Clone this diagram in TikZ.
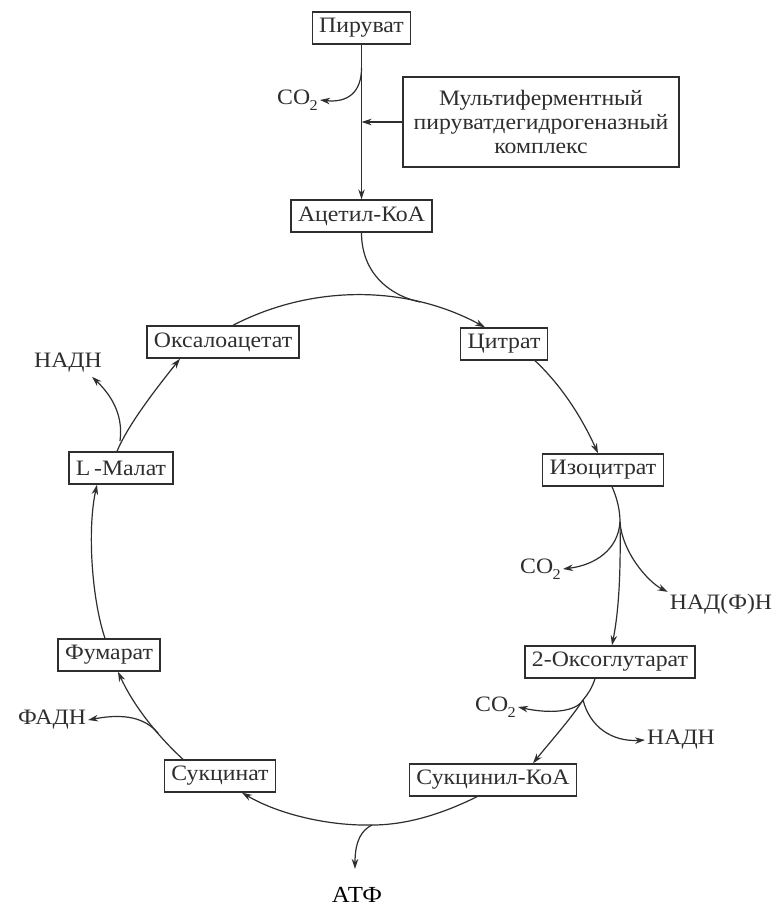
\documentclass[tikz,border=0pt]{standalone}
\usepackage{fontspec}
\setmainfont[FakeStretch=1.08]{Liberation Serif}
\usetikzlibrary{arrows.meta}
\definecolor{ink}{HTML}{2E2E2E}
\newcommand{\cotwo}{CO\kern-0.5pt\raisebox{-0.55ex}{\fontsize{15}{15}\selectfont 2}}
\begin{document}
\begin{tikzpicture}[x=1pt,y=-1pt,
  box/.style={draw=ink, line width=1.4pt, inner xsep=7pt, inner ysep=0pt, minimum height=32pt, font=\fontsize{22}{26}\selectfont, text=ink},
  lbl/.style={inner sep=2pt, font=\fontsize{22}{26}\selectfont, text=ink},
  conn/.style={draw=ink, line width=1.2pt},
  arr/.style={conn, -{Stealth[length=10pt,width=6.5pt]}}]
\fill[white] (0,0) rectangle (781,908);
\useasboundingbox (0,0) rectangle (781,908);

% nodes
\node[box] (pyr) at (361.5,28) {Пируват};
\node[box, align=center, minimum width=276pt, minimum height=90pt, inner xsep=2pt] (cplx) at (541,122) {Мультиферментный\\[-2pt]пируватдегидрогеназный\\[-2pt]комплекс};
\node[box] (acetyl) at (361.5,216) {Ацетил-КоА};
\node[box] (oxalo) at (223,342) {Оксалоацетат};
\node[box] (cit) at (504,344) {Цитрат};
\node[box] (isocit) at (603,470) {Изоцитрат};
\node[box] (malat) at (121,468) {L\,-Малат};
\node[box] (fum) at (109,655) {Фумарат};
\node[box] (succ) at (220,776) {Сукцинат};
\node[box] (oxoglut) at (610,662) {2-Оксоглутарат};
\node[box] (succoa) at (493,780) {Сукцинил-КоА};

\node[lbl, anchor=east] (co2a) at (320,100) {\cotwo};
\node[lbl] (nadh1) at (68,363) {НАДН};
\node[lbl] (fadh) at (52,720) {ФАДН};
\node[lbl, anchor=east] (co2b) at (563,569) {\cotwo};
\node[lbl] (nadph) at (721,604) {НАД(Ф)Н};
\node[lbl, anchor=east] (co2c) at (518,707) {\cotwo};
\node[lbl, anchor=west] (nadh2) at (645,740) {НАДН};
\node[lbl, text=black, font=\fontsize{23}{26}\selectfont] (atp) at (357,895) {АТФ};

% branch coordinates
\coordinate (t1) at (361.5,68);
\coordinate (cx) at (361.5,122);
\coordinate (mrg) at (420,302);
\coordinate (b1) at (620,522);
\coordinate (b2) at (583,700);
\coordinate (b3) at (372,825);
\coordinate (b4) at (158,733);
\coordinate (b5) at (120,441);

% top
\draw[arr] (pyr) -- (acetyl);
\draw[arr] (t1) .. controls (361.5,92) and (348,103) .. (co2a.east);
\draw[arr] (cplx.west) -- (cx);
\draw[conn] (acetyl.south) .. controls (361.5,272) and (388,295) .. (mrg);

% cycle
\draw[arr] ([xshift=10pt]oxalo.north) .. controls (311.6,284.5) and (406.4,284.5) .. ([xshift=-19pt]cit.north);
\draw[arr] ([xshift=31pt]cit.south) .. controls (562,386) and (582,418) .. ([xshift=-5pt]isocit.north);
\draw[arr] ([xshift=9pt]isocit.south) .. controls (617,498) and (620,510) .. (b1) .. controls (621,580) and (618,615) .. ([xshift=2pt]oxoglut.north);
\draw[arr] (b1) .. controls (618,550) and (595,565) .. (co2b.east);
\draw[arr] (b1) .. controls (622,552) and (648,582) .. (nadph.north west);
\draw[arr] ([xshift=-15pt]oxoglut.south) .. controls (592,688) and (588,694) .. (b2) .. controls (570,720) and (550,742) .. ([xshift=40pt]succoa.north);
\draw[arr] (b2) .. controls (576,712) and (550,714) .. (co2c.east);
\draw[arr] (b2) .. controls (590,727) and (612,742) .. (nadh2.west);
\draw[arr] ([xshift=-16pt]succoa.south) .. controls (440,815) and (405,825) .. (b3) .. controls (330,826) and (280,815) .. ([xshift=22pt]succ.south);
\draw[arr] (b3) .. controls (362,830) and (355,840) .. (355,869);
\draw[arr] ([xshift=-37pt]succ.north) .. controls (156.5,735) and (133,704.6) .. ([xshift=9pt]fum.south);
\draw[arr] (b4) .. controls (145,718) and (125,713) .. (fadh.east);
\draw[arr] ([xshift=-4pt]fum.north) .. controls (92,600) and (87,530) .. ([xshift=-24pt]malat.south);
\draw[arr] ([xshift=-4pt]malat.north) .. controls (128,425) and (155,390) .. ([xshift=-43pt]oxalo.south);
\draw[arr] (b5) .. controls (124,412) and (108,392) .. ([xshift=-12pt,yshift=-2pt]nadh1.south east);
\end{tikzpicture}
\end{document}
